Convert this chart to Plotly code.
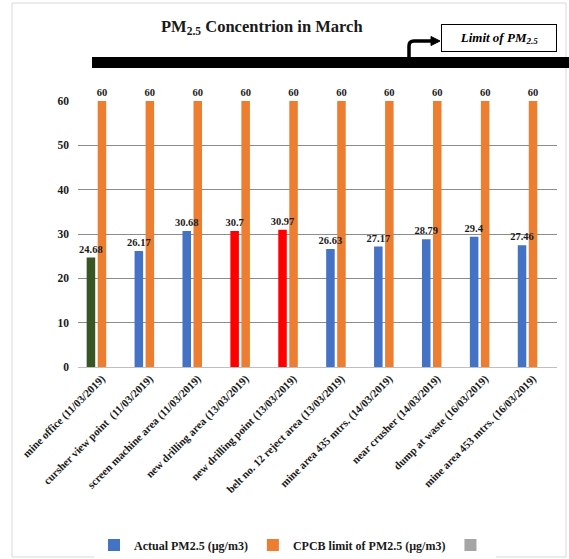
import plotly.graph_objects as go

# ---- data -------------------------------------------------------------
locations = [
    "mine office (11/03/2019)",
    "cursher view point  (11/03/2019)",
    "screen machine area (11/03/2019)",
    "new drilling area (13/03/2019)",
    "new drilling point (13/03/2019)",
    "belt no. 12 reject area (13/03/2019)",
    "mine area 435 mtrs. (14/03/2019)",
    "near crusher (14/03/2019)",
    "dump at waste (16/03/2019)",
    "mine area 453 mtrs. (16/03/2019)",
]
actual_pm25 = [24.68, 26.17, 30.68, 30.7, 30.97, 26.63, 27.17, 28.79, 29.4, 27.46]
cpcb_limit = [60, 60, 60, 60, 60, 60, 60, 60, 60, 60]
empty_series = [None] * len(locations)
y_ticks = [0, 10, 20, 30, 40, 50, 60]
series_names = ["Actual PM2.5 (µg/m3)", "CPCB limit of PM2.5 (µg/m3)", ""]

# ---- styling ----------------------------------------------------------
BLUE = "#4472C4"
ORANGE = "#ED7D31"
GRAY = "#A5A5A5"
GREEN = "#375623"
RED = "#FF0000"
point_colors = [GREEN, BLUE, BLUE, RED, RED, BLUE, BLUE, BLUE, BLUE, BLUE]

FONT = "Liberation Serif"
W, H = 569, 559
L, R, T, B = 78, 557, 101, 367  # plot area in pixels

# clustered layout within each category (category width = 1)
SLOT = 0.23        # distance between neighbouring bars in a cluster
BAR_W = 0.178      # individual bar width


def px(x):
    return (x - L) / (R - L)


def py(y):
    return (B - y) / (B - T)


label_font = dict(family=FONT, size=10.5, color="#1a1a1a")

fig = go.Figure()
# limit series first so that the measured-value labels sit on top of it
fig.add_trace(go.Bar(
    x=locations, y=cpcb_limit, name=series_names[1], showlegend=False,
    width=BAR_W, offset=-BAR_W / 2,
    marker=dict(color=ORANGE, line_width=0),
    text=[f"<b>{v:g}</b>" for v in cpcb_limit], textposition="outside",
    textfont=label_font, cliponaxis=False, constraintext="none",
))
fig.add_trace(go.Bar(
    x=locations, y=actual_pm25, name=series_names[0], showlegend=False,
    width=BAR_W, offset=-SLOT - BAR_W / 2,
    marker=dict(color=point_colors, line_width=0),
    text=[f"<b>{v:g}</b>" for v in actual_pm25], textposition="outside",
    textfont=label_font, cliponaxis=False, constraintext="none",
))
fig.add_trace(go.Bar(
    x=locations, y=empty_series, name=series_names[2], showlegend=False,
    width=BAR_W, offset=SLOT - BAR_W / 2,
    marker=dict(color=GRAY, line_width=0),
))

# small square legend keys, one per series
for name, color in zip(series_names, [BLUE, ORANGE, GRAY]):
    fig.add_trace(go.Scatter(
        x=[None], y=[None], mode="markers", name=f"<b>{name}</b>" if name else "",
        marker=dict(symbol="square", size=6, color=color),
        showlegend=True,
    ))

shapes = [
    # outer chart frame
    dict(type="rect", xref="paper", yref="paper",
         x0=px(12), x1=px(566), y0=py(557), y1=py(3),
         line=dict(color="#D9D9D9", width=1), fillcolor="rgba(0,0,0,0)",
         layer="below"),
    # thick black limit bar
    dict(type="rect", xref="paper", yref="paper",
         x0=px(92), x1=px(569), y0=py(68), y1=py(57),
         line_width=0, fillcolor="black"),
    # bent connector rising from the bar to the label box
    dict(type="path", xref="paper", yref="paper",
         path=(f"M {px(409)},{py(58)} L {px(409)},{py(46)} "
               f"Q {px(409)},{py(41)} {px(414)},{py(41)} L {px(433)},{py(41)}"),
         line=dict(color="black", width=3.5), fillcolor="rgba(0,0,0,0)"),
    # arrow head
    dict(type="path", xref="paper", yref="paper",
         path=(f"M {px(431)},{py(36.5)} L {px(440)},{py(41)} "
               f"L {px(431)},{py(45.5)} Z"),
         line=dict(color="black", width=1), fillcolor="black"),
]

annotations = [
    dict(xref="paper", yref="paper", x=px(262), y=py(27),
         text="<b>PM<sub>2.5</sub> Concentrion in March</b>",
         showarrow=False, font=dict(family=FONT, size=16.5, color="#1a1a1a"),
         xanchor="center", yanchor="middle"),
    dict(xref="paper", yref="paper", x=px(499), y=py(38),
         text="<b><i>Limit of PM<sub>2.5</sub></i></b>",
         showarrow=False, font=dict(family=FONT, size=13, color="black"),
         xanchor="center", yanchor="middle",
         bordercolor="black", borderwidth=1, bgcolor="white",
         width=112, height=24),
]

fig.update_layout(
    width=W, height=H,
    margin=dict(l=L, r=W - R, t=T, b=H - B, autoexpand=False),
    paper_bgcolor="white", plot_bgcolor="white",
    barmode="overlay",
    font=dict(family=FONT, color="#1a1a1a"),
    shapes=shapes, annotations=annotations,
    showlegend=True,
    legend=dict(orientation="h", x=px(295), xanchor="center",
                y=py(545), yanchor="middle",
                font=dict(family=FONT, size=12, color="#1a1a1a"),
                itemwidth=30, itemsizing="constant", traceorder="normal",
                tracegroupgap=0),
    xaxis=dict(tickangle=-45, tickfont=dict(family=FONT, size=11),
               showline=True, linecolor="#BFBFBF", ticks="",
               showgrid=False,
               tickvals=locations,
               ticktext=[f"<b>{c}</b>" for c in locations]),
    yaxis=dict(range=[0, 60], tickvals=y_ticks,
               ticktext=[f"<b>{v}</b>" for v in y_ticks],
               tickfont=dict(family=FONT, size=11.5),
               showgrid=True, gridcolor="#8C8C8C", gridwidth=1,
               zeroline=False, showline=False, ticks="",
               ticklabelstandoff=8),
)

fig.write_html("out.html")
